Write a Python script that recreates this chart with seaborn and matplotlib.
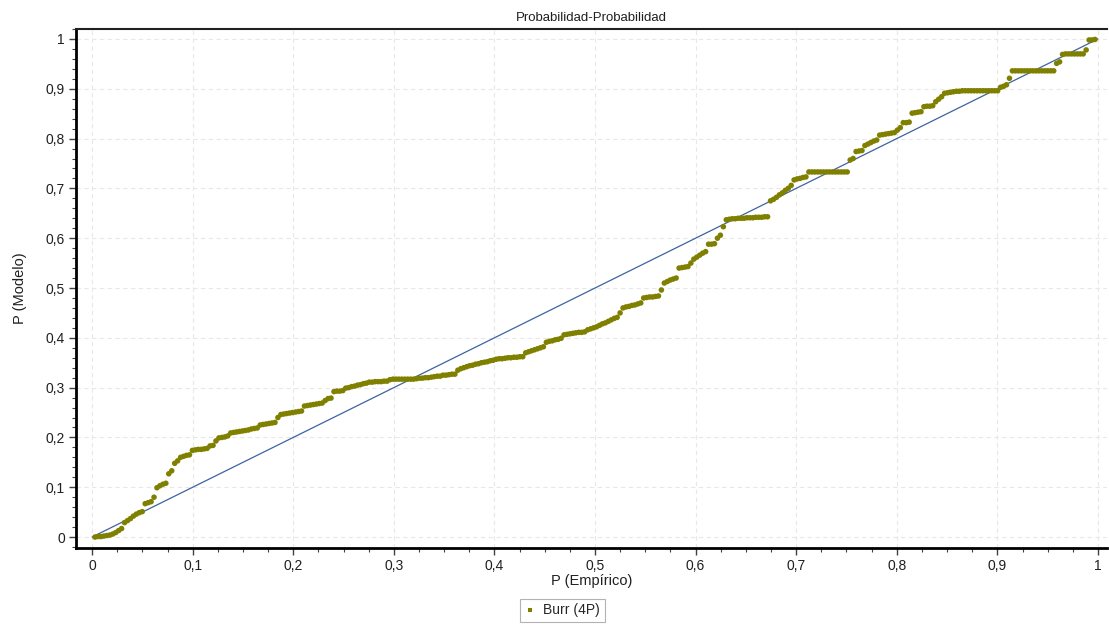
"""
P-P plot (Probabilidad-Probabilidad) for a Burr (4P) fit.
"""

import numpy as np
import pandas as pd
import matplotlib

matplotlib.use("Agg")

import matplotlib.pyplot as plt
import seaborn as sns
from matplotlib.ticker import MultipleLocator, FuncFormatter
from matplotlib.lines import Line2D

# ============================================================
# DATA
# ============================================================

SERIES_NAME = "Burr (4P)"

P_MODEL = [
    0.000, 0.001, 0.001, 0.002, 0.003, 0.004, 0.006, 0.009, 0.013, 0.017,
    0.029, 0.033, 0.037, 0.042, 0.046, 0.049, 0.051, 0.067, 0.069, 0.071,
    0.080, 0.099, 0.103, 0.106, 0.108, 0.127, 0.133, 0.148, 0.153, 0.160,
    0.162, 0.164, 0.165, 0.174, 0.175, 0.176, 0.176, 0.177, 0.178, 0.183,
    0.184, 0.193, 0.199, 0.200, 0.201, 0.203, 0.209, 0.210, 0.211, 0.212,
    0.213, 0.214, 0.215, 0.217, 0.218, 0.219, 0.225, 0.226, 0.227, 0.228,
    0.229, 0.230, 0.240, 0.246, 0.247, 0.248, 0.249, 0.250, 0.251, 0.252,
    0.253, 0.263, 0.264, 0.265, 0.266, 0.267, 0.268, 0.269, 0.274, 0.278,
    0.279, 0.292, 0.293, 0.293, 0.294, 0.299, 0.300, 0.302, 0.303, 0.305,
    0.306, 0.308, 0.309, 0.311, 0.311, 0.312, 0.312, 0.312, 0.313, 0.313,
    0.316, 0.317, 0.317, 0.317, 0.317, 0.317, 0.317, 0.317, 0.317, 0.318,
    0.319, 0.319, 0.320, 0.320, 0.321, 0.322, 0.323, 0.323, 0.325, 0.325,
    0.326, 0.327, 0.327, 0.335, 0.338, 0.340, 0.342, 0.344, 0.345, 0.347,
    0.348, 0.350, 0.351, 0.352, 0.354, 0.355, 0.357, 0.358, 0.358, 0.359,
    0.360, 0.360, 0.361, 0.361, 0.362, 0.362, 0.370, 0.372, 0.374, 0.376,
    0.378, 0.380, 0.382, 0.391, 0.393, 0.394, 0.396, 0.397, 0.399, 0.406,
    0.407, 0.408, 0.409, 0.410, 0.411, 0.411, 0.412, 0.416, 0.418, 0.420,
    0.422, 0.425, 0.428, 0.430, 0.433, 0.436, 0.439, 0.441, 0.450, 0.460,
    0.462, 0.463, 0.465, 0.466, 0.468, 0.470, 0.480, 0.481, 0.482, 0.482,
    0.483, 0.484, 0.496, 0.510, 0.513, 0.516, 0.518, 0.520, 0.540, 0.541,
    0.542, 0.543, 0.550, 0.558, 0.562, 0.566, 0.570, 0.573, 0.588, 0.588,
    0.589, 0.600, 0.606, 0.623, 0.637, 0.638, 0.639, 0.639, 0.640, 0.640,
    0.640, 0.641, 0.641, 0.641, 0.642, 0.642, 0.642, 0.643, 0.643, 0.675,
    0.678, 0.682, 0.687, 0.691, 0.696, 0.700, 0.706, 0.717, 0.719, 0.720,
    0.722, 0.723, 0.733, 0.733, 0.733, 0.733, 0.733, 0.733, 0.733, 0.733,
    0.733, 0.733, 0.733, 0.733, 0.733, 0.733, 0.757, 0.760, 0.774, 0.775,
    0.776, 0.786, 0.789, 0.792, 0.795, 0.797, 0.807, 0.808, 0.809, 0.810,
    0.811, 0.812, 0.817, 0.822, 0.832, 0.832, 0.833, 0.851, 0.852, 0.853,
    0.854, 0.864, 0.865, 0.865, 0.866, 0.874, 0.879, 0.884, 0.891, 0.892,
    0.893, 0.894, 0.895, 0.895, 0.896, 0.896, 0.896, 0.896, 0.896, 0.896,
    0.896, 0.896, 0.896, 0.896, 0.896, 0.896, 0.896, 0.903, 0.905, 0.908,
    0.921, 0.936, 0.936, 0.936, 0.936, 0.936, 0.936, 0.936, 0.936, 0.936,
    0.936, 0.936, 0.936, 0.936, 0.936, 0.936, 0.951, 0.954, 0.969, 0.970,
    0.970, 0.970, 0.970, 0.970, 0.970, 0.970, 0.978, 0.998, 0.998, 0.999,
]

# empirical probability = rank / (n + 1)
N_OBS = len(P_MODEL)
P_EMP = [i / (N_OBS + 1) for i in range(1, N_OBS + 1)]

# reference diagonal
REF_X = [0.0, 1.0]
REF_Y = [0.0, 1.0]

POINT_COLOR = "#808000"
LINE_COLOR  = "#3c64a0"

# ============================================================
# PLOT
# ============================================================

sns.set_style("white")
plt.rcParams["font.family"] = ["Liberation Sans", "DejaVu Sans"]

df = pd.DataFrame({"emp": P_EMP, "mod": P_MODEL})
ref = pd.DataFrame({"x": REF_X, "y": REF_Y})

fig = plt.figure(figsize=(11.09, 6.33), dpi=100)
ax = fig.add_axes([76 / 1109, 1 - 548 / 633, (1107 - 76) / 1109, (548 - 29) / 633])

sns.lineplot(data=ref, x="x", y="y", ax=ax, color=LINE_COLOR,
             linewidth=0.9, zorder=2)
sns.scatterplot(data=df, x="emp", y="mod", ax=ax, color=POINT_COLOR,
                s=16, marker="o", edgecolor="none", linewidth=0, zorder=3)

ax.set_xlim(-0.016, 1.009)
ax.set_ylim(-0.022, 1.02)

ax.xaxis.set_major_locator(MultipleLocator(0.1))
ax.xaxis.set_minor_locator(MultipleLocator(0.025))
ax.yaxis.set_major_locator(MultipleLocator(0.1))
ax.yaxis.set_minor_locator(MultipleLocator(0.02))

def _comma(v, pos):
    if abs(v) < 1e-9:
        return "0"
    if abs(v - 1) < 1e-9:
        return "1"
    return f"{v:.1f}".replace(".", ",")

ax.xaxis.set_major_formatter(FuncFormatter(_comma))
ax.yaxis.set_major_formatter(FuncFormatter(_comma))

ax.tick_params(which="major", direction="out", length=5, width=1,
               color="#404040", labelsize=10, labelcolor="#202020",
               bottom=True, left=True, pad=3)
ax.tick_params(which="minor", direction="out", length=3, width=0.8,
               color="#404040", bottom=True, left=True)

ax.grid(True, which="major", color="#e8e8e8", linestyle=(0, (4, 3)),
        linewidth=0.8)
ax.set_axisbelow(True)

for side in ("left", "bottom"):
    ax.spines[side].set_color("black")
    ax.spines[side].set_linewidth(2.0)
ax.spines["top"].set_color("#202020")
ax.spines["top"].set_linewidth(1.5)
ax.spines["right"].set_visible(False)

ax.set_title("Probabilidad-Probabilidad", fontsize=9.5, color="#202020", pad=6)
ax.set_xlabel("P (Empírico)", fontsize=10.5, color="#202020", labelpad=1)
ax.set_ylabel("P (Modelo)", fontsize=10.5, color="#202020", labelpad=13)

handle = Line2D([], [], linestyle="none", marker="s", markersize=3,
                color=POINT_COLOR, markeredgewidth=0)
leg = fig.legend([handle], [SERIES_NAME], loc="lower center",
                 bbox_to_anchor=(0.507, 0.006), fontsize=10,
                 frameon=True, fancybox=False, handlelength=0.8,
                 handletextpad=0.5, borderpad=0.35)
leg.get_frame().set_edgecolor("#a0a0a0")
leg.get_frame().set_linewidth(0.8)

plt.savefig("out.png", dpi=100)
plt.close()
